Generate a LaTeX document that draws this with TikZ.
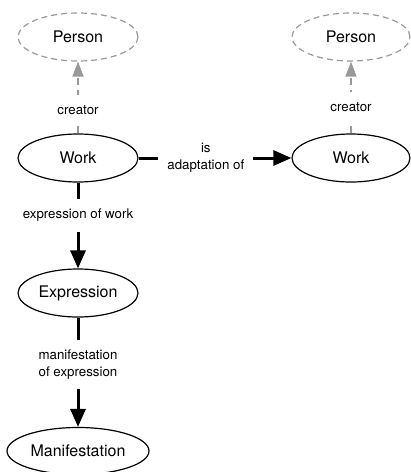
\documentclass[tikz,border=0pt]{standalone}
\usepackage{fontspec}
\setmainfont{TeX Gyre Heros}
\usetikzlibrary{shapes.geometric,arrows.meta}
\begin{document}
\begin{tikzpicture}[
      x=1pt, y=-1pt,
      ent/.style={ellipse, draw=black, line width=1.2pt, minimum width=120pt, minimum height=48pt,
          inner sep=0pt, font=\fontsize{16}{19}\selectfont},
      ghost/.style={ent, draw=gray!80, dash pattern=on 6pt off 4pt},
      arr/.style={line width=3pt, -{Triangle[length=18pt, width=15pt]}},
      garr/.style={line width=1.5pt, draw=gray!80, dash pattern=on 7pt off 5pt,
          -{Triangle[length=15pt, width=11pt]}},
      lbl/.style={fill=white, inner xsep=9pt, inner ysep=10pt, align=center,
          font=\fontsize{13.3}{17}\selectfont}
    ]
    \useasboundingbox (0,0) rectangle (411,472);

    \node[ent] (work) at (78,158) {Work};
    \node[ghost] (person) at (78,37) {Person};
    \node[ent] (expr) at (78,293) {Expression};
    \node[ent, minimum width=142pt, minimum height=47pt] (manif) at (78,451) {Manifestation};
    \node[ent, minimum width=118pt] (work2) at (351,158) {Work};
    \node[ghost, minimum width=118pt] (person2) at (351,37) {Person};

    \draw[garr] (work) -- node[lbl, pos=0.33] {creator} (person);
    \draw[garr] (work2) -- node[lbl, pos=0.37] {creator} (person2);
    \draw[arr] (work) -- node[lbl, pos=0.44] {is\\adaptation of} (work2);
    \draw[arr] (work) -- node[lbl, pos=0.38] {expression of work} (expr);
    \draw[arr] (expr) -- node[lbl, pos=0.43] {manifestation\\of expression} (manif);
  \end{tikzpicture}
\end{document}
